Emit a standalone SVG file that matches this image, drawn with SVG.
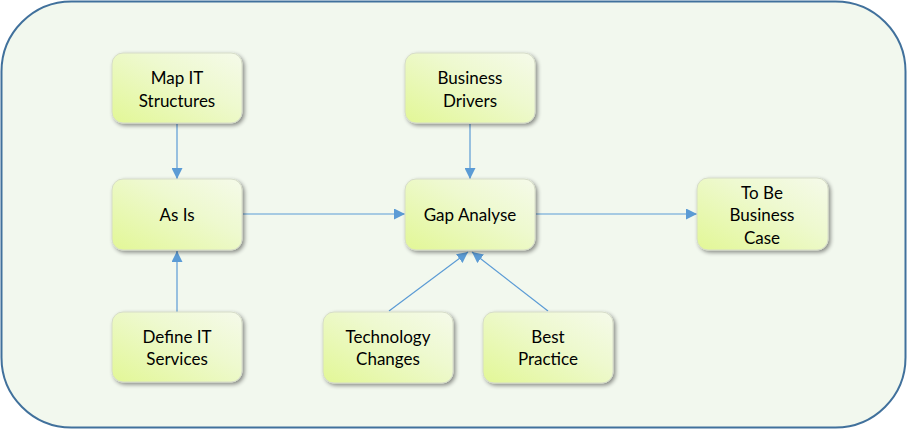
<svg xmlns="http://www.w3.org/2000/svg" width="907" height="429" viewBox="0 0 907 429">
<style>
.box{fill:url(#g);stroke:#d6dcc8;stroke-width:1;filter:url(#sh)}
.t{font-family:Lato,"Open Sans","Liberation Sans",sans-serif;font-size:17px;fill:#000;text-anchor:middle;dominant-baseline:central}
.c{stroke:#5B9BD5;stroke-width:1.2;fill:none;marker-end:url(#a)}
</style>
<defs>
<linearGradient id="g" x1="0" y1="1" x2="1" y2="0">
<stop offset="0" stop-color="#E2F796"/>
<stop offset="0.6" stop-color="#EEF9CF"/>
<stop offset="1" stop-color="#F5FAEA"/>
</linearGradient>
<filter id="sh" x="-20%" y="-20%" width="150%" height="150%">
<feGaussianBlur in="SourceAlpha" stdDeviation="2"/>
<feOffset dx="2" dy="2" result="b"/>
<feComponentTransfer><feFuncA type="linear" slope="0.45"/></feComponentTransfer>
<feMerge><feMergeNode/><feMergeNode in="SourceGraphic"/></feMerge>
</filter>
<marker id="a" viewBox="0 0 10 10" refX="10" refY="5" markerWidth="11" markerHeight="11" markerUnits="userSpaceOnUse" orient="auto">
<path d="M0,0 L10,5 L0,10 z" fill="#5B9BD5"/>
</marker>
</defs>
<rect x="1.5" y="1.5" width="904" height="426" rx="70" ry="70" fill="#F2F8EE" stroke="#41719C" stroke-width="2"/>
<g id="connectors">
<line class="c" x1="177" y1="124" x2="177" y2="179"/>
<line class="c" x1="177" y1="312" x2="177" y2="251"/>
<line class="c" x1="243" y1="214" x2="405" y2="214"/>
<line class="c" x1="470" y1="124" x2="470" y2="179"/>
<line class="c" x1="536" y1="214" x2="697" y2="214"/>
<line class="c" x1="389" y1="311" x2="468" y2="252"/>
<line class="c" x1="548" y1="311" x2="472" y2="252"/>
</g>
<g id="map-it">
<rect class="box" x="112" y="53" width="130" height="70" rx="11"/>
<text class="t" x="177" y="77">Map IT</text>
<text class="t" x="177" y="100">Structures</text>
</g>
<g id="as-is">
<rect class="box" x="112" y="179" width="130" height="71" rx="11"/>
<text class="t" x="177" y="214">As Is</text>
</g>
<g id="define-it">
<rect class="box" x="112" y="312" width="130" height="70" rx="11"/>
<text class="t" x="177" y="336">Define IT</text>
<text class="t" x="177" y="358">Services</text>
</g>
<g id="business-drivers">
<rect class="box" x="405" y="53" width="130" height="70" rx="11"/>
<text class="t" x="470" y="77">Business</text>
<text class="t" x="470" y="100">Drivers</text>
</g>
<g id="gap-analyse">
<rect class="box" x="405" y="179" width="130" height="71" rx="11"/>
<text class="t" x="470" y="214">Gap Analyse</text>
</g>
<g id="technology-changes">
<rect class="box" x="323" y="312" width="130" height="71" rx="11"/>
<text class="t" x="388" y="336">Technology</text>
<text class="t" x="388" y="358">Changes</text>
</g>
<g id="best-practice">
<rect class="box" x="483" y="312" width="130" height="71" rx="11"/>
<text class="t" x="548" y="336">Best</text>
<text class="t" x="548" y="358">Practice</text>
</g>
<g id="to-be">
<rect class="box" x="697" y="178" width="131" height="72" rx="11"/>
<text class="t" x="762" y="192">To Be</text>
<text class="t" x="762" y="214">Business</text>
<text class="t" x="762" y="237">Case</text>
</g>
</svg>
